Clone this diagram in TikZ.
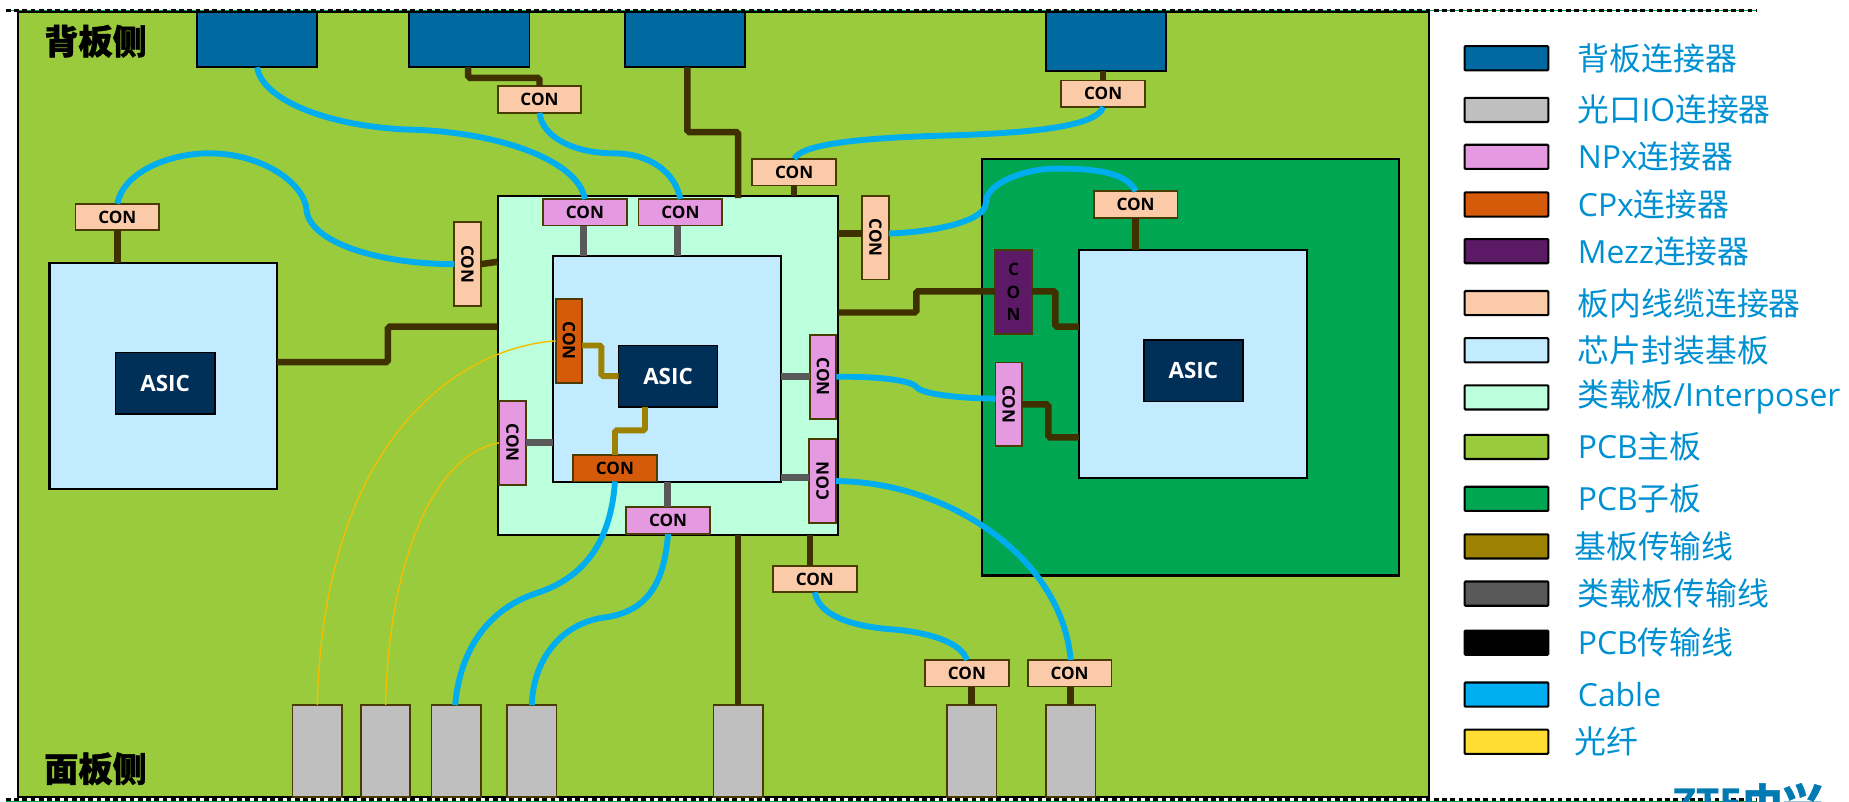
\documentclass[tikz,border=0pt]{standalone}
\usepackage{fontspec}
\setmainfont{Open Sans}
\newfontfamily\cjk[BoldFeatures={FakeBold=1.2}]{Noto Sans CJK SC}
\usetikzlibrary{positioning}
\definecolor{bpblue}{HTML}{006AA0}
\definecolor{iogray}{HTML}{BFBFBF}
\definecolor{npxpink}{HTML}{E499E1}
\definecolor{cpxorange}{HTML}{D55B0A}
\definecolor{mezzpurple}{HTML}{5C1A66}
\definecolor{conpeach}{HTML}{FBCBA9}
\definecolor{subblue}{HTML}{C2EBFF}
\definecolor{intermint}{HTML}{BBFFDD}
\definecolor{pcbgreen}{HTML}{9ACB3C}
\definecolor{daughtergreen}{HTML}{00A651}
\definecolor{subline}{HTML}{9C8200}
\definecolor{interline}{HTML}{595959}
\definecolor{pcbline}{HTML}{3F3000}
\definecolor{cableblue}{HTML}{00AEEF}
\definecolor{fiberyellow}{HTML}{FFDD33}
\definecolor{fiberline}{HTML}{F0C000}
\definecolor{asicnavy}{HTML}{003057}
\definecolor{legendblue}{HTML}{0090D2}
\definecolor{edgebrown}{HTML}{4A3B00}
\definecolor{markgreen}{HTML}{00A651}
\newcommand{\vtext}[1]{\rotatebox{-90}{#1}}
\newcommand{\utext}[1]{\rotatebox{90}{#1}}

\begin{document}
\begin{tikzpicture}[
  x=1pt, y=-1pt,
  board/.style={draw=black, line width=1.8pt, inner sep=0pt, outer sep=0pt, anchor=north west},
  asic/.style={draw=black, line width=1.5pt, fill=asicnavy, text=white, inner sep=0pt, outer sep=0pt, minimum width=84pt, minimum height=52pt, font=\bfseries\fontsize{19}{21}\selectfont},
  hcon/.style={draw=edgebrown, line width=1.5pt, inner sep=0pt, outer sep=0pt, minimum width=71pt, minimum height=22.5pt, font=\bfseries\fontsize{14.5}{16}\selectfont},
  vcon/.style={hcon, minimum width=22.5pt, minimum height=71pt},
  bpcon/.style={draw=black, line width=1.5pt, fill=bpblue, inner sep=0pt, outer sep=0pt, minimum width=102pt, anchor=north west},
  iocon/.style={draw=edgebrown, line width=1.5pt, fill=iogray, inner sep=0pt, outer sep=0pt, minimum width=42pt, minimum height=78pt, anchor=north west},
  swatch/.style={draw=black, line width=1.8pt, rounded corners=0.8pt, inner sep=0pt, minimum width=71pt, minimum height=20.5pt},
  legendtext/.style={text=legendblue, inner sep=0pt, font=\fontsize{27}{30}\selectfont},
  sidetext/.style={inner sep=0pt, font=\cjk\bfseries\fontsize{29}{30}\selectfont},
  pcbtrace/.style={draw=pcbline, line width=5.5pt, rounded corners=1.5pt},
  subtrace/.style={draw=subline, line width=5pt, rounded corners=1.5pt},
  intertrace/.style={draw=interline, line width=6pt},
  cable/.style={draw=cableblue, line width=5pt},
  fiber/.style={draw=fiberline, line width=1.2pt}
]
  \useasboundingbox (0,0) rectangle (1568,680);

  % boards
  \node[board, fill=pcbgreen, minimum width=1197pt, minimum height=666pt] (mainboard) at (15,10) {};
  \node[board, fill=daughtergreen, minimum width=353pt, minimum height=353pt] (daughter) at (833,135) {};
  \node[board, fill=intermint, minimum width=289pt, minimum height=288pt] (inter) at (422,166) {};
  \node[board, fill=subblue, minimum width=193pt, minimum height=192pt] (subL) at (42,223) {};
  \node[board, fill=subblue, minimum width=193pt, minimum height=192pt] (subC) at (469,217) {};
  \node[board, fill=subblue, minimum width=193pt, minimum height=193pt] (subR) at (915,212) {};
  \node[asic] (asicL) at (140,325) {ASIC};
  \node[asic] (asicC) at (566.5,319) {ASIC};
  \node[asic] (asicR) at (1012,314.5) {ASIC};

  \node[sidetext, anchor=center] (backside) at (81,35) {背板侧};
  \node[sidetext, anchor=center] (frontside) at (81,652) {面板侧};

  % backplane and panel connectors
  \node[bpcon, minimum height=47pt] (bpA) at (167,10) {};
  \node[bpcon, minimum height=47pt] (bpB) at (347,10) {};
  \node[bpcon, minimum height=47pt] (bpC) at (530,10) {};
  \node[bpcon, minimum height=50pt] (bpD) at (887,10) {};
  \node[iocon] (ioA) at (248,598) {};
  \node[iocon] (ioB) at (306,598) {};
  \node[iocon] (ioC) at (366,598) {};
  \node[iocon] (ioD) at (430,598) {};
  \node[iocon] (ioE) at (605,598) {};
  \node[iocon] (ioF) at (803,598) {};
  \node[iocon] (ioG) at (887,598) {};

  % cable connectors on the main board
  \node[hcon, fill=conpeach] (conL) at (99.5,184) {CON};
  \node[vcon, fill=conpeach] (conLv) at (396.5,224) {\vtext{CON}};
  \node[hcon, fill=conpeach] (conB) at (457.5,84.5) {CON};
  \node[hcon, fill=conpeach] (conT) at (673.5,146) {CON};
  \node[hcon, fill=conpeach] (conD) at (935.5,79.5) {CON};
  \node[vcon, fill=conpeach] (conRv) at (742.5,201.5) {\vtext{CON}};
  \node[hcon, fill=conpeach] (conS) at (691,491) {CON};
  \node[hcon, fill=conpeach] (conF) at (820,571) {CON};
  \node[hcon, fill=conpeach] (conG) at (907,571) {CON};
  \node[hcon, fill=conpeach] (conR) at (963,173.5) {CON};

  % connectors on the interposer, substrate and daughter board
  \node[hcon, fill=npxpink] (npxA) at (496,180) {CON};
  \node[hcon, fill=npxpink] (npxB) at (577,180) {CON};
  \node[hcon, fill=npxpink] (npxC) at (566.5,441.5) {CON};
  \node[vcon, fill=npxpink] (npxL) at (434.5,375.5) {\vtext{CON}};
  \node[vcon, fill=npxpink] (npxU) at (698,319.5) {\vtext{CON}};
  \node[vcon, fill=npxpink] (npxD) at (697.5,408) {\utext{CON}};
  \node[vcon, fill=npxpink] (npxM) at (855.5,343) {\vtext{CON}};
  \node[vcon, fill=cpxorange] (cpxL) at (482.5,289) {\vtext{CON}};
  \node[hcon, fill=cpxorange] (cpxB) at (521.5,397) {CON};
  \node[vcon, fill=mezzpurple, minimum width=31pt, align=center, font=\bfseries\fontsize{14.5}{19}\selectfont] (mezz) at (859.5,247.5) {C\\O\\N};

  % PCB traces
  \draw[pcbtrace] (conL.south) -- (subL.north -| conL.south);
  \draw[pcbtrace] (subL.east |- 0,307) -- (329,307) -- (329,277) -- (inter.west |- 0,277);
  \draw[pcbtrace] (conLv.east |- 0,224) -- (inter.west |- 0,222);
  \draw[pcbtrace] (bpB.south -| 397,0) -- (397,66) -- (457.5,66) -- (conB.north);
  \draw[pcbtrace] (bpC.south -| 583,0) -- (583,112) -- (626,112) -- (626,168);
  \draw[pcbtrace] (conT.south) -- (inter.north -| conT.south);
  \draw[pcbtrace] (bpD.south -| conD.north) -- (conD.north);
  \draw[pcbtrace] (inter.east |- 0,198) -- (conRv.west |- 0,198);
  \draw[pcbtrace] (inter.east |- 0,265) -- (777,265) -- (777,247) -- (mezz.west |- 0,247);
  \draw[pcbtrace] (mezz.east |- 0,247) -- (895,247) -- (895,277) -- (subR.west |- 0,277);
  \draw[pcbtrace] (npxM.east |- 0,343) -- (889,343) -- (889,371) -- (subR.west |- 0,371);
  \draw[pcbtrace] (conR.south) -- (subR.north -| conR.south);
  \draw[pcbtrace] (inter.south -| 626,0) -- (ioE.north -| 626,0);
  \draw[pcbtrace] (inter.south -| 687,0) -- (conS.north -| 687,0);
  \draw[pcbtrace] (conF.south -| 824,0) -- (ioF.north -| 824,0);
  \draw[pcbtrace] (conG.south -| 908,0) -- (ioG.north -| 908,0);

  % interposer traces
  \draw[intertrace] (npxA.south -| 495,0) -- (subC.north -| 495,0);
  \draw[intertrace] (npxB.south -| 574.5,0) -- (subC.north -| 574.5,0);
  \draw[intertrace] (subC.south -| 566,0) -- (npxC.north -| 566,0);
  \draw[intertrace] (npxL.east) -- (subC.west |- npxL.east);
  \draw[intertrace] (subC.east |- npxU.west) -- (npxU.west);
  \draw[intertrace] (subC.east |- 0,405) -- (npxD.west |- 0,405);

  % substrate traces
  \draw[subtrace] (cpxL.east |- 0,293) -- (510,293) -- (510,319) -- (asicC.west);
  \draw[subtrace] (asicC.south -| 547,0) -- (547,365) -- (521.5,365) -- (cpxB.north);

  % cables
  \draw[cable] (conL.north) .. controls (105,145) and (145,130) .. (177,130) .. controls (222,130) and (258,155) .. (260,178) .. controls (262,205) and (320,224) .. (conLv.west);
  \draw[cable] (bpA.south -| 218,0) .. controls (222,85) and (280,108) .. (350,110) .. controls (420,112) and (490,135) .. (npxA.north);
  \draw[cable] (conB.south) .. controls (460,118) and (490,130) .. (520,130) .. controls (550,130) and (572,145) .. (npxB.north);
  \draw[cable] (conT.north) .. controls (680,122) and (730,117) .. (800,115) .. controls (870,113) and (930,108) .. (conD.south);
  \draw[cable] (conRv.east |- 0,198) .. controls (790,197) and (836,188) .. (836,172) .. controls (836,155) and (870,143) .. (895,143) .. controls (925,143) and (955,145) .. (conR.north);
  \draw[cable] (npxU.east) .. controls (740,319) and (772,322) .. (777,328) .. controls (782,335) and (820,338) .. (npxM.west |- 0,338);
  \draw[cable] (npxD.east) .. controls (800,408) and (900,470) .. (conG.north -| 908,0);
  \draw[cable] (conS.south) .. controls (695,525) and (730,532) .. (760,534) .. controls (790,537) and (815,545) .. (conF.north);
  \draw[cable] (cpxB.south) .. controls (518,460) and (495,490) .. (455,503) .. controls (415,516) and (390,550) .. (ioC.north -| 386,0);
  \draw[cable] (npxC.south) .. controls (563,500) and (545,520) .. (510,524) .. controls (475,530) and (452,560) .. (ioD.north -| 451,0);

  % fibers
  \draw[fiber] (cpxL.west) .. controls (390,295) and (275,370) .. (ioA.north);
  \draw[fiber] (npxL.west) .. controls (370,385) and (330,470) .. (ioB.north);

  % legend
  \foreach \i/\rowy/\rowfill/\rowgap/\rowtext in {
    1/49.4/bpblue/24/{{\cjk 背板连接器}},
    2/93.2/iogray/24/{{\cjk 光口}IO{\cjk 连接器}},
    3/133/npxpink/24/{NPx{\cjk 连接器}},
    4/173.4/cpxorange/24/{CPx{\cjk 连接器}},
    5/213/mezzpurple/24/{Mezz{\cjk 连接器}},
    6/257/conpeach/24/{{\cjk 板内线缆连接器}},
    7/297/subblue/24/{{\cjk 芯片封装基板}},
    8/337/intermint/24/{{\cjk 类载板}/Interposer},
    9/379/pcbgreen/24/{PCB{\cjk 主板}},
    10/423/daughtergreen/24/{PCB{\cjk 子板}},
    11/463.4/subline/21/{{\cjk 基板传输线}},
    12/503.4/interline/24/{{\cjk 类载板传输线}},
    13/545/black/24/{PCB{\cjk 传输线}},
    14/589/cableblue/24/{Cable},
    15/629/fiberyellow/21/{{\cjk 光纤}}} {
    \node[swatch, fill=\rowfill] (sw\i) at (1277.5,\rowy) {};
    \node[legendtext, right=\rowgap pt of sw\i] (lb\i) {\rowtext};
  }

  % page marks
  \draw[markgreen, line width=0.8pt] (5,9) -- (1490,9);
  \draw[black, line width=2pt, dash pattern=on 4pt off 3pt] (5,9) -- (1490,9);
  \draw[markgreen, line width=0.8pt] (5,679.5) -- (1490,679.5);
  \draw[black, line width=2pt, dash pattern=on 4pt off 3pt] (5,678) -- (1490,678);

  \node[text=legendblue!85!black, anchor=north west, inner sep=0pt, font=\bfseries\fontsize{34}{36}\selectfont] (logo) at (1419,664) {ZTE{\cjk 中兴}};
\end{tikzpicture}
\end{document}
